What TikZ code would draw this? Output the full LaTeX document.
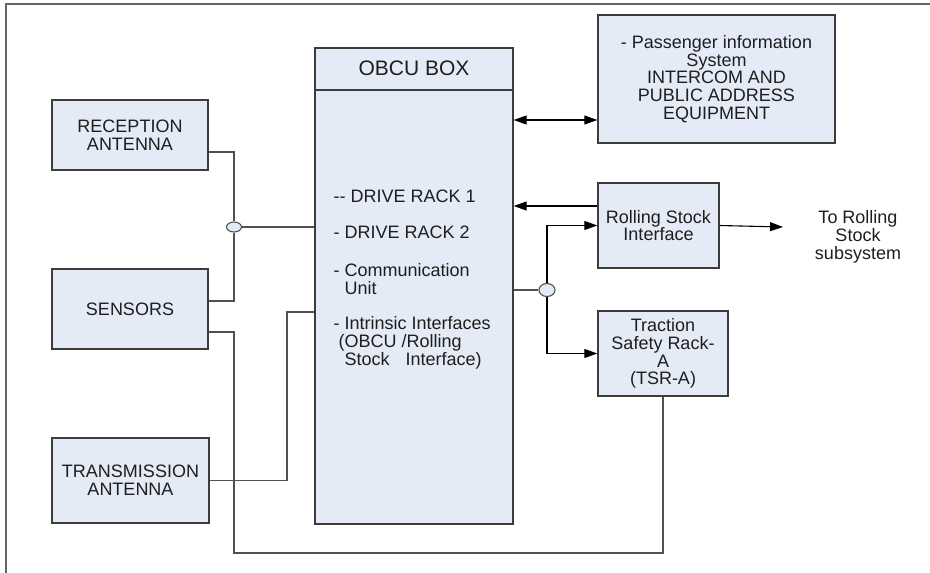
\documentclass[tikz,border=0pt]{standalone}
\usepackage{fontspec}
\setmainfont{Liberation Sans}
\usetikzlibrary{arrows.meta, shapes.geometric}

\definecolor{boxfill}{HTML}{E4EBF6}
\definecolor{boxline}{HTML}{3C3C3C}
\definecolor{wire}{HTML}{505050}
\definecolor{ink}{HTML}{1E1E1E}

\begin{document}
\begin{tikzpicture}[x=1pt, y=-1pt,
	every node/.style={text=ink, font=\fontsize{18}{17.8}\selectfont},
	unit/.style={draw=boxline, fill=boxfill, line width=1.4pt, align=center, inner sep=0pt},
	wire/.style={draw=wire, line width=1.2pt},
	feed/.style={draw=black, line width=1.1pt, -{Triangle[length=13pt, width=9pt]}},
	tee/.style={ellipse, draw=wire, fill=boxfill, line width=1.1pt, inner sep=0pt}
]
	\useasboundingbox (0, 0) rectangle (930, 573);

	%frame
	\draw [gray!80!black, line width=1.4pt] (930, 4) -- (6, 4) -- (6, 573);

	%left side units
	\node [unit, minimum width=156, minimum height=70] (rx) at (130, 135) {RECEPTION\\ANTENNA};
	\node [unit, minimum width=156, minimum height=80] (sensors) at (130, 309) {SENSORS};
	\node [unit, minimum width=157, minimum height=85] (tx) at (130.5, 480.5) {TRANSMISSION\\ANTENNA};

	%obcu box
	\node [unit, minimum width=198, minimum height=476] (obcu) at (414, 286) {};
	\node [font=\fontsize{21}{20}\selectfont] (obcutitle) at (414, 68) {OBCU BOX};
	\draw [boxline, line width=1.4pt] (obcu.west |- 0, 90) -- (obcu.east |- 0, 90);
	\node [anchor=west] (rack1) at (330, 196) {-{}- DRIVE RACK 1};
	\node [anchor=west] (rack2) at (330, 232) {- DRIVE RACK 2};
	\node [anchor=north west, align=left] (comm) at (330, 260) {- Communication\\\hspace{11pt}Unit};
	\node [anchor=north west, align=left] (intr) at (330, 313)
		{- Intrinsic Interfaces\\\hspace{5pt}(OBCU /Rolling\\\hspace{11pt}Stock\hspace{16pt}Interface)};

	%right side units
	\node [unit, minimum width=237, minimum height=128] (pis) at (716.5, 79)
		{- Passenger information\\System\\INTERCOM AND\\PUBLIC ADDRESS\\EQUIPMENT};
	\node [unit, minimum width=121, minimum height=85] (rsi) at (658.5, 225.5) {Rolling Stock\\Interface};
	\node [unit, minimum width=130, minimum height=85] (tsr) at (663, 353.5) {Traction\\Safety Rack-\\A\\(TSR-A)};
	\node [align=center] (dest) at (858, 237) {To Rolling\\Stock\\subsystem};

	%junctions
	\node [tee, minimum width=15, minimum height=10] (j1) at (234, 227) {};
	\node [tee, minimum width=16, minimum height=13] (j2) at (547, 290) {};
	\coordinate (loop) at (234, 553);
	\coordinate (txturn) at (287, 312);
	\coordinate (rsout) at (783, 227);

	%paths
	\draw [wire] ([yshift=-17pt]rx.east) -| (j1);
	\draw [wire] (j1) |- ([yshift=8pt]sensors.east);
	\draw [wire] (j1) -- (obcu.west |- j1);
	\draw [wire] ([yshift=-23pt]sensors.east) -| (loop) -| (tsr.south);
	\draw [wire] (tx.east) -| (txturn) -- (obcu.west |- txturn);

	\draw [feed, {Triangle[length=13pt, width=9pt]}-{Triangle[length=13pt, width=9pt]}]
		(obcu.east |- 0, 120) -- (pis.west |- 0, 120);
	\draw [feed] ([yshift=19.5pt]rsi.west) -- (obcu.east |- 0, 206);
	\draw [wire] (obcu.east |- j2) -- (j2);
	\draw [feed] (j2) |- (rsi.west);
	\draw [feed] (j2) |- (tsr.west);
	\draw [feed] (rsi.east) -- (rsout);

\end{tikzpicture}
\end{document}
